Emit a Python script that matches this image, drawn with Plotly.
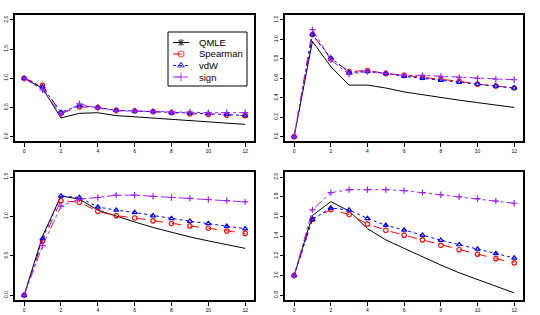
import plotly.graph_objects as go

lags = list(range(13))

# Panel 1 (top-left)
p1_qmle = [1.00, 0.83, 0.32, 0.40, 0.41, 0.36, 0.34, 0.32, 0.29, 0.27, 0.26, 0.24, 0.21]
p1_spear = [1.00, 0.88, 0.40, 0.51, 0.50, 0.45, 0.44, 0.43, 0.41, 0.39, 0.38, 0.37, 0.36]
p1_vdw = [1.00, 0.85, 0.42, 0.53, 0.50, 0.45, 0.44, 0.43, 0.41, 0.40, 0.39, 0.38, 0.36]
p1_sign = [1.00, 0.80, 0.38, 0.56, 0.49, 0.44, 0.44, 0.43, 0.42, 0.42, 0.41, 0.41, 0.41]

# Panel 2 (top-right)
p2_qmle = [0.00, 0.98, 0.72, 0.53, 0.53, 0.50, 0.46, 0.43, 0.40, 0.375, 0.35, 0.325, 0.30]
p2_spear = [0.00, 1.05, 0.80, 0.67, 0.68, 0.65, 0.63, 0.61, 0.59, 0.57, 0.54, 0.52, 0.50]
p2_vdw = [0.00, 1.05, 0.81, 0.66, 0.67, 0.65, 0.62, 0.60, 0.58, 0.56, 0.54, 0.52, 0.50]
p2_sign = [0.00, 1.10, 0.79, 0.64, 0.67, 0.65, 0.63, 0.63, 0.62, 0.61, 0.60, 0.59, 0.585]

# Panel 3 (bottom-left)
p3_qmle = [0.00, 0.75, 1.26, 1.22, 1.08, 1.00, 0.93, 0.86, 0.80, 0.74, 0.69, 0.64, 0.595]
p3_spear = [0.00, 0.69, 1.20, 1.18, 1.065, 1.01, 0.98, 0.944, 0.91, 0.88, 0.85, 0.815, 0.785]
p3_vdw = [0.00, 0.72, 1.26, 1.24, 1.12, 1.08, 1.05, 1.01, 0.975, 0.94, 0.91, 0.875, 0.845]
p3_sign = [0.00, 0.63, 1.13, 1.22, 1.24, 1.27, 1.27, 1.255, 1.24, 1.23, 1.215, 1.20, 1.185]

# Panel 4 (bottom-right)
p4_qmle = [1.00, 1.61, 1.75, 1.655, 1.476, 1.362, 1.276, 1.19, 1.107, 1.028, 0.959, 0.89, 0.824]
p4_spear = [1.00, 1.57, 1.67, 1.62, 1.524, 1.46, 1.41, 1.362, 1.307, 1.262, 1.217, 1.172, 1.128]
p4_vdw = [1.00, 1.57, 1.686, 1.665, 1.58, 1.51, 1.462, 1.41, 1.359, 1.314, 1.269, 1.224, 1.179]
p4_sign = [1.00, 1.666, 1.841, 1.872, 1.872, 1.872, 1.862, 1.841, 1.82, 1.80, 1.78, 1.755, 1.734]

x_ticks = [0, 2, 4, 6, 8, 10, 12]
y_ticks = [
    [0.0, 0.5, 1.0, 1.5, 2.0],
    [0.0, 0.2, 0.4, 0.6, 0.8, 1.0, 1.2],
    [0.0, 0.5, 1.0, 1.5],
    [0.8, 1.0, 1.2, 1.4, 1.6, 1.8, 2.0],
]
y_lims = [(0.0, 2.0), (0.0, 1.2), (0.0, 1.5), (0.8, 2.0)]

panels = [
    (p1_qmle, p1_spear, p1_vdw, p1_sign),
    (p2_qmle, p2_spear, p2_vdw, p2_sign),
    (p3_qmle, p3_spear, p3_vdw, p3_sign),
    (p4_qmle, p4_spear, p4_vdw, p4_sign),
]

names = ["QMLE", "Spearman", "vdW", "sign"]
colors = ["black", "#FF0000", "#0000FF", "#A020F0"]
dashes = ["solid", "dash", "dot", "dashdot"]
symbols = ["asterisk-open", "circle-open", "triangle-up-open", "cross-thin-open"]

fig = go.Figure()

W, H = 540, 315
boxes = [
    (15.3, 254, 15.3, 141.3),
    (285.3, 523, 15.3, 141.3),
    (15.3, 254, 172.3, 300),
    (285.3, 523, 172.3, 300),
]

for i, series in enumerate(panels):
    ax = "" if i == 0 else str(i + 1)
    for j, ys in enumerate(series):
        mode = "lines" if j == 0 else "lines+markers"
        fig.add_trace(go.Scatter(
            x=lags, y=ys, mode=mode, name=names[j], showlegend=False,
            xaxis="x" + ax, yaxis="y" + ax,
            line=dict(color=colors[j], dash=dashes[j], width=1),
            marker=dict(symbol=symbols[j], size=4.5, color=colors[j],
                        line=dict(color=colors[j], width=1.2)),
        ))

# Manual legend in panel 1 (pixel-based overlay axis)
LX0, LX1, LY0, LY1 = 168, 247, 32, 86
row_y = [42.5, 54.0, 65.5, 77.0]
for j in range(4):
    fig.add_trace(go.Scatter(
        x=[173, 181, 189], y=[row_y[j]] * 3, mode="lines+markers",
        showlegend=False, xaxis="x5", yaxis="y5", hoverinfo="skip",
        line=dict(color=colors[j], dash=dashes[j], width=1),
        marker=dict(symbol=symbols[j], size=[0, 6, 0], color=colors[j],
                    line=dict(color=colors[j], width=1.2)),
    ))
    fig.add_annotation(x=197, y=row_y[j], xref="x5", yref="y5", text=names[j],
                       showarrow=False, xanchor="left", yanchor="middle",
                       font=dict(size=9.5, family="Liberation Sans", color="black"))

layout = {}
for i, (x0, x1, y0, y1) in enumerate(boxes):
    ax = "" if i == 0 else str(i + 1)
    lo, hi = y_lims[i]
    pad = (hi - lo) * 0.04
    common = dict(showgrid=False, zeroline=False, showline=True, mirror=True,
                  linecolor="black", linewidth=1.5, ticks="outside",
                  ticklen=4, tickwidth=1, tickcolor="black", automargin=False,
                  tickfont=dict(size=5, family="Liberation Sans", color="black"))
    layout["xaxis" + ax] = dict(domain=[x0 / W, x1 / W], range=[-0.48, 12.48],
                                tickvals=x_ticks, anchor="y" + ax, **common)
    layout["yaxis" + ax] = dict(domain=[1 - y1 / H, 1 - y0 / H],
                                range=[lo - pad, hi + pad],
                                tickvals=y_ticks[i],
                                ticktext=["%.1f" % v for v in y_ticks[i]],
                                tickangle=-90, anchor="x" + ax, **common)

layout["xaxis5"] = dict(domain=[LX0 / W, LX1 / W], range=[LX0, LX1], visible=False,
                        fixedrange=True, anchor="y5", automargin=False)
layout["yaxis5"] = dict(domain=[1 - LY1 / H, 1 - LY0 / H], range=[LY1, LY0], visible=False,
                        fixedrange=True, anchor="x5", automargin=False)

fig.update_layout(
    width=W, height=H,
    margin=dict(l=0, r=0, t=0, b=0, pad=0),
    paper_bgcolor="white", plot_bgcolor="rgba(0,0,0,0)",
    showlegend=False,
    shapes=[dict(type="rect", xref="paper", yref="paper",
                 x0=LX0 / W, x1=LX1 / W, y0=1 - LY1 / H, y1=1 - LY0 / H,
                 line=dict(color="black", width=1), fillcolor="white", layer="below")],
    **layout,
)

fig.write_html("out.html", config={"displayModeBar": False},
               post_script="document.body.style.margin='0px';")
